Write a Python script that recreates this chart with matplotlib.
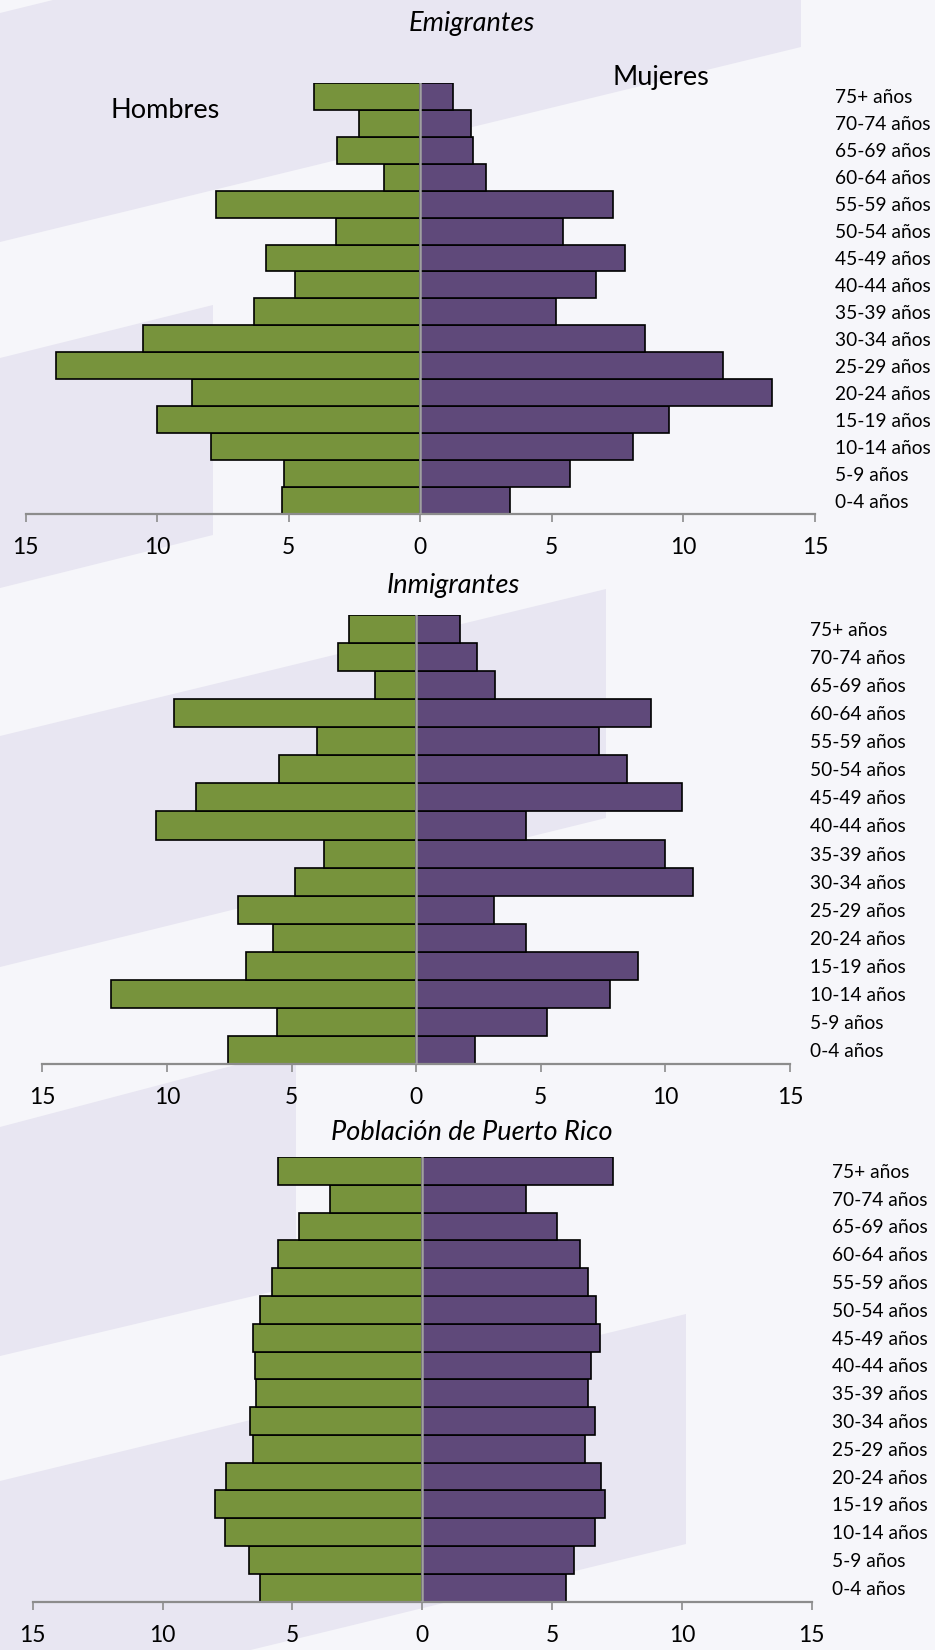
import matplotlib
matplotlib.use('Agg')
import matplotlib.pyplot as plt
from matplotlib.patches import Polygon

plt.rcParams['font.family'] = ['Lato', 'DejaVu Sans']

# grupos de edad, de abajo hacia arriba
edades = ['0-4 años', '5-9 años', '10-14 años', '15-19 años', '20-24 años',
          '25-29 años', '30-34 años', '35-39 años', '40-44 años', '45-49 años',
          '50-54 años', '55-59 años', '60-64 años', '65-69 años', '70-74 años',
          '75+ años']

# porcentajes por sexo
emig_hombres = [5.27, 5.18, 7.95, 10.02, 8.66, 13.83, 10.52, 6.30, 4.77, 5.87,
                3.22, 7.78, 1.36, 3.15, 2.33, 4.02]
emig_mujeres = [3.40, 5.68, 8.08, 9.46, 13.38, 11.52, 8.54, 5.16, 6.68, 7.79,
                5.43, 7.34, 2.51, 2.01, 1.92, 1.25]
inmig_hombres = [7.55, 5.59, 12.24, 6.81, 5.74, 7.15, 4.88, 3.71, 10.45, 8.82,
                 5.50, 3.97, 9.71, 1.65, 3.13, 2.70]
inmig_mujeres = [2.37, 5.26, 7.77, 8.89, 4.40, 3.11, 11.09, 9.97, 4.40, 10.66,
                 8.46, 7.34, 9.42, 3.16, 2.44, 1.77]
pr_hombres = [6.25, 6.68, 7.58, 7.97, 7.56, 6.50, 6.64, 6.39, 6.43, 6.50,
              6.25, 5.79, 5.56, 4.73, 3.56, 5.56]
pr_mujeres = [5.54, 5.84, 6.64, 7.05, 6.89, 6.29, 6.64, 6.39, 6.50, 6.85,
              6.68, 6.39, 6.09, 5.21, 4.00, 7.35]

ticks = [-15, -10, -5, 0, 5, 10, 15]
tick_labels = ['15', '10', '5', '0', '5', '10', '15']

VERDE = '#77933C'
MORADO = '#5F497A'
GRIS = '#8C8C8C'
FONDO = '#F6F6FA'
BANDA = '#E8E6F2'

W, H = 935, 1650
fig = plt.figure(figsize=(W / 100, H / 100), dpi=100, facecolor=FONDO)

# fondo decorativo con bandas diagonales (coordenadas en pixeles)
bg = fig.add_axes([0, 0, 1, 1])
bg.set_xlim(0, W)
bg.set_ylim(H, 0)
bg.axis('off')
bandas = [
    [(53, 0), (801, 0), (801, 47), (0, 242), (0, 13)],
    [(0, 358), (213, 305), (213, 535), (0, 588)],
    [(0, 736), (606, 589), (606, 818), (0, 967)],
    [(0, 1127), (296, 1049), (296, 1286), (0, 1356)],
    [(0, 1481), (686, 1314), (686, 1544), (0, 1711)],
]
for b in bandas:
    bg.add_patch(Polygon(b, closed=True, facecolor=BANDA, edgecolor='none'))


def piramide(x0, x1, y_top, y_axis, hombres, mujeres):
    """dibuja una piramide en la caja dada en pixeles"""
    ax = fig.add_axes([x0 / W, 1 - y_axis / H, (x1 - x0) / W, (y_axis - y_top) / H])
    ax.patch.set_alpha(0)
    pos = range(len(edades))
    ax.barh(pos, [-v for v in hombres], height=1, color=VERDE,
            edgecolor='black', linewidth=1.2, zorder=2)
    ax.barh(pos, mujeres, height=1, color=MORADO,
            edgecolor='black', linewidth=1.2, zorder=2)
    ax.axvline(0, color='#A0A0A0', linewidth=1.8, zorder=3)
    ax.set_xlim(-15, 15)
    ax.set_ylim(-0.5, len(edades) - 0.5)
    ax.set_xticks(ticks)
    ax.set_xticklabels(tick_labels, fontsize=16.5)
    ax.tick_params(axis='x', direction='out', length=6, width=1.2,
                   color=GRIS, pad=10.5)
    ax.set_yticks(list(pos))
    ax.set_yticklabels(edades, fontsize=13.8, ha='left')
    ax.yaxis.tick_right()
    ax.tick_params(axis='y', length=0, pad=14.6)
    for s in ['top', 'left', 'right']:
        ax.spines[s].set_visible(False)
    ax.spines['bottom'].set_color(GRIS)
    ax.spines['bottom'].set_linewidth(1.6)
    return ax


piramide(25.5, 815, 82.8, 514, emig_hombres, emig_mujeres)
piramide(42.3, 790, 615, 1064, inmig_hombres, inmig_mujeres)
piramide(32.8, 811.6, 1157, 1601.6, pr_hombres, pr_mujeres)

bg.text(472, 23, 'Emigrantes', fontsize=19.5, style='italic', ha='center', va='center')
bg.text(453, 585, 'Inmigrantes', fontsize=19.5, style='italic', ha='center', va='center')
bg.text(472, 1132, 'Población de Puerto Rico', fontsize=19.5, style='italic',
        ha='center', va='center')
bg.text(165, 111, 'Hombres', fontsize=19.5, ha='center', va='center')
bg.text(661, 77, 'Mujeres', fontsize=19.5, ha='center', va='center')

plt.savefig('out.png', dpi=100, facecolor=FONDO)
